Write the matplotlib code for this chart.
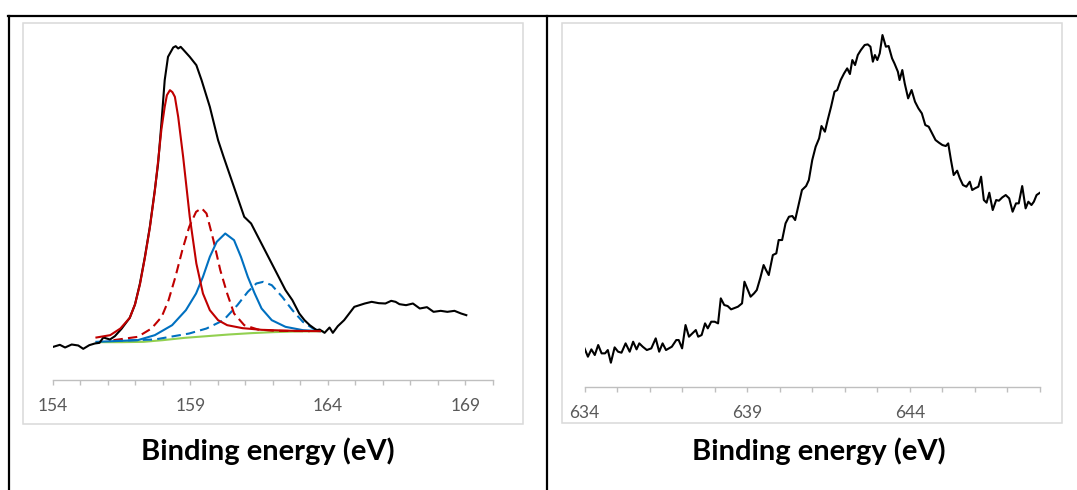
import matplotlib
matplotlib.use("Agg")
import matplotlib.pyplot as plt
from matplotlib.lines import Line2D
from matplotlib.patches import Rectangle

# ---------------- Left panel data (S 2p region) ----------------
env_E = [154.02, 154.26, 154.45, 154.69, 154.93, 155.11, 155.33, 155.53, 155.7, 155.84, 156.08, 156.26,
         156.5, 156.8, 156.99, 157.17, 157.35, 157.53, 157.71, 157.83, 157.95, 158.07, 158.19, 158.38,
         158.47, 158.56, 158.65, 158.74, 158.98, 159.22, 159.41, 159.71, 160.01, 160.21, 160.46,
         160.71, 160.96, 161.21, 161.46, 161.71, 161.96, 162.21, 162.46, 162.71, 162.96, 163.15, 163.34,
         163.59, 163.7, 163.88, 164.06, 164.18, 164.36, 164.59, 164.96, 165.34, 165.59, 165.85, 166.09,
         166.3, 166.46, 166.6, 166.84, 167.09, 167.34, 167.6, 167.84, 168.1, 168.34, 168.6, 168.84, 169.03]
env_I = [9.8, 10.4, 9.6, 10.5, 10.2, 9.2, 10.3, 10.8, 11.0, 12.6, 12.0, 13.0,
         15.2, 18.5, 22.5, 28.8, 36.8, 45.8, 56.8, 64.8, 76.8, 89.8, 96.8, 99.6,
         100.0, 99.3, 99.8, 99.0, 96.8, 94.3, 89.8, 81.8, 71.8, 66.8, 60.8,
         54.8, 48.8, 46.8, 42.8, 38.8, 34.8, 30.8, 26.8, 23.8, 19.8, 17.8, 16.3,
         14.8, 15.0, 14.0, 15.6, 14.0, 16.0, 17.8, 21.8, 22.8, 23.3, 22.9, 22.8,
         23.6, 23.3, 22.6, 22.3, 22.8, 21.3, 21.7, 20.3, 20.6, 20.3, 20.6, 19.8, 19.3]

bg_E = [155.6, 156.5, 157.3, 158.0, 158.8, 159.6, 160.4, 161.2, 162.0, 162.8, 163.8]
bg_I = [11.2, 11.2, 11.3, 11.8, 12.5, 13.0, 13.5, 13.9, 14.2, 14.4, 14.5]

red1_E = [155.59, 156.09, 156.46, 156.8, 156.99, 157.17, 157.35, 157.53, 157.71, 157.83, 157.95,
          158.07, 158.15, 158.26, 158.35, 158.44, 158.56, 158.74, 158.98, 159.22, 159.46, 159.71,
          160.01, 160.34, 160.9, 161.6, 162.71, 163.71]
red1_I = [12.6, 13.3, 15.3, 18.5, 22.5, 28.5, 36.5, 45.5, 56.5, 65.5, 75.0,
          81.8, 85.3, 86.8, 86.2, 84.8, 78.8, 66.8, 48.8, 34.8, 25.8, 20.8,
          17.8, 16.3, 15.4, 14.9, 14.6, 14.5]

red2_E = [156.21, 157.09, 157.59, 157.96, 158.21, 158.46, 158.71, 158.96, 159.21, 159.41, 159.59,
          159.84, 160.09, 160.34, 160.59, 160.96, 161.46, 162.09, 163.34]
red2_I = [11.8, 12.8, 15.3, 18.8, 23.8, 30.8, 38.8, 45.8, 50.3, 51.4, 49.8,
          41.8, 32.8, 25.8, 19.8, 16.3, 15.0, 14.6, 14.5]

blue1_E = [155.59, 157.09, 157.71, 158.34, 158.84, 159.21, 159.46, 159.71, 159.96, 160.27, 160.59,
           160.84, 161.09, 161.34, 161.59, 161.96, 162.46, 163.09, 163.71]
blue1_I = [11.3, 11.8, 13.3, 16.3, 20.8, 25.8, 30.8, 36.8, 41.3, 43.8, 41.8,
           36.8, 30.8, 25.8, 21.3, 17.8, 15.8, 14.8, 14.5]

blue2_E = [156.21, 157.71, 158.96, 159.59, 160.21, 160.71, 161.09, 161.4, 161.65, 161.96, 162.34,
           162.71, 163.09, 163.46, 163.71]
blue2_I = [11.6, 12.0, 13.8, 15.3, 17.8, 22.3, 26.3, 28.8, 29.3, 28.3, 24.8,
           20.8, 17.3, 15.3, 14.5]

left_ticklabels = ["154", "159", "164", "169"]

# ---------------- Right panel data (Mn 2p region) ----------------
r_E = [634.000, 634.105, 634.211, 634.316, 634.421, 634.526, 634.632, 634.716, 634.811, 634.926,
       635.032, 635.137, 635.263, 635.389, 635.495, 635.600, 635.684, 635.789, 635.916, 636.053,
       636.189, 636.295, 636.400, 636.505, 636.684, 636.821, 636.895, 637.000, 637.105, 637.211,
       637.316, 637.421, 637.495, 637.600, 637.705, 637.789, 637.895, 638.000, 638.105, 638.189,
       638.295, 638.400, 638.505, 638.611, 638.716, 638.842, 638.916, 639.021, 639.105, 639.211,
       639.295, 639.400, 639.505, 639.579, 639.663, 639.789, 639.895, 639.968, 640.074, 640.179,
       640.284, 640.389, 640.474, 640.579, 640.684, 640.811, 640.895, 641.000, 641.105, 641.211,
       641.284, 641.389, 641.474, 641.579, 641.684, 641.768, 641.874, 641.979, 642.074, 642.158,
       642.232, 642.316, 642.400, 642.495, 642.611, 642.705, 642.789, 642.863, 642.926, 643.000,
       643.074, 643.158, 643.263, 643.347, 643.453, 643.526, 643.632, 643.684, 643.768, 643.842,
       643.947, 644.053, 644.158, 644.263, 644.368, 644.474, 644.579, 644.684, 644.789, 644.895,
       645.000, 645.105, 645.179, 645.263, 645.347, 645.453, 645.537, 645.632, 645.737, 645.842,
       645.916, 646.000, 646.105, 646.189, 646.274, 646.358, 646.442, 646.547, 646.653, 646.737,
       646.842, 646.947, 647.053, 647.158, 647.263, 647.347, 647.453, 647.558, 647.642, 647.737,
       647.811, 647.895, 648.000]
r_I = [11.5, 9.0, 11.2, 9.5, 12.5, 10.0, 10.0, 11.0, 7.2, 11.8,
       10.5, 10.2, 13.0, 10.5, 13.5, 11.2, 13.0, 12.0, 11.0, 11.5,
       14.5, 10.5, 13.0, 11.0, 12.0, 14.0, 14.0, 11.5, 18.5, 15.0,
       16.0, 17.0, 15.0, 15.5, 19.0, 17.5, 19.5, 19.5, 19.0, 26.5,
       24.5, 24.2, 23.2, 23.6, 24.0, 25.0, 31.5, 29.0, 27.0, 28.0,
       29.0, 32.5, 36.5, 35.0, 33.5, 39.5, 40.0, 44.0, 44.0, 49.0,
       51.0, 51.2, 50.0, 54.5, 59.0, 60.2, 62.0, 68.0, 72.0, 74.5,
       78.2, 76.5, 80.0, 84.0, 88.5, 89.0, 92.0, 94.0, 95.5, 93.8,
       98.0, 96.5, 99.5, 101.0, 102.5, 102.7, 102.0, 97.5, 99.5, 98.0,
       100.0, 105.5, 102.0, 102.2, 98.5, 97.0, 94.5, 92.0, 95.0, 91.0,
       86.5, 89.0, 85.5, 83.5, 82.0, 78.5, 78.0, 76.0, 74.0, 73.2,
       72.5, 72.2, 73.0, 68.0, 63.5, 64.8, 62.5, 60.5, 60.0, 61.5,
       59.0, 59.5, 60.0, 63.0, 56.0, 55.2, 58.2, 53.0, 56.0, 55.8,
       56.8, 57.5, 56.5, 52.5, 55.0, 55.0, 60.2, 53.5, 55.5, 54.5,
       55.5, 57.5, 58.2]

right_ticklabels = ["634", "639", "644"]

xlabel_text = "Binding energy (eV)"

# ---------------- Figure ----------------
W, H = 1077, 490
fig = plt.figure(figsize=(W / 100, H / 100), dpi=100)
fig.patch.set_facecolor("white")


def fx(px):
    return px / W


def fy(py):
    return 1 - py / H


# table lines
fig.add_artist(Line2D([fx(8), fx(1077)], [fy(16), fy(16)], color="black", lw=1.6))
fig.add_artist(Line2D([fx(9), fx(9)], [fy(16), fy(490)], color="black", lw=1.6))
fig.add_artist(Line2D([fx(547), fx(547)], [fy(16), fy(490)], color="black", lw=1.6))

# chart frames
for (x0, y0, x1, y1) in [(22.5, 23.5, 523, 424), (562, 23.5, 1062, 423)]:
    fig.add_artist(Rectangle((fx(x0), fy(y1)), fx(x1 - x0), (y1 - y0) / H,
                             fill=False, edgecolor="#d9d9d9", lw=1.1))

gray = "#bfbfbf"


def style(ax, lo, hi, labels, step=5):
    for s in ["left", "right", "top"]:
        ax.spines[s].set_visible(False)
    ax.spines["bottom"].set_color(gray)
    ax.spines["bottom"].set_linewidth(1.0)
    ax.set_yticks([])
    ax.set_xlim(lo, hi)
    ax.set_xticks([lo + step * i for i in range(len(labels))])
    ax.set_xticklabels(labels)
    ax.set_xticks(list(range(int(lo), int(hi) + 1)), minor=True)
    ax.tick_params(axis="x", which="both", direction="out", length=3.5, width=1.0,
                   color=gray)
    ax.tick_params(axis="x", which="major", pad=10, labelsize=12.5,
                   labelcolor="#595959")
    for t in ax.get_xticklabels():
        t.set_fontfamily(["Lato", "DejaVu Sans"])
    ax.patch.set_alpha(0)


LW = 1.5
DASH = (0, (4.5, 2.5))

# left axes
axL = fig.add_axes([fx(52.7), fy(379.5), fx(493 - 52.7), (379.5 - 30) / H])
axL.plot(bg_E, bg_I, color="#92D050", lw=LW)
axL.plot(blue2_E, blue2_I, color="#0070C0", lw=LW, ls=DASH)
axL.plot(red2_E, red2_I, color="#C00000", lw=LW, ls=DASH)
axL.plot(blue1_E, blue1_I, color="#0070C0", lw=LW)
axL.plot(env_E, env_I, color="black", lw=LW)
axL.plot(red1_E, red1_I, color="#C00000", lw=LW)
axL.set_ylim(0, (379.5 - 30) * 0.3)
style(axL, 154, 170, left_ticklabels)

# right axes
axR = fig.add_axes([fx(584.5), fy(386.7), fx(1040 - 584.5), (386.7 - 30) / H])
axR.plot(r_E, r_I, color="black", lw=LW)
axR.set_ylim(0, (386.7 - 30) * 0.3)
style(axR, 634, 648, right_ticklabels)

# axis titles
for cx in [268, 819]:
    fig.text(fx(cx), fy(451), xlabel_text, ha="center", va="center",
             fontsize=21, fontweight="bold", family=["Lato", "DejaVu Sans"], color="black")

fig.savefig("out.png", dpi=100, facecolor="white")
